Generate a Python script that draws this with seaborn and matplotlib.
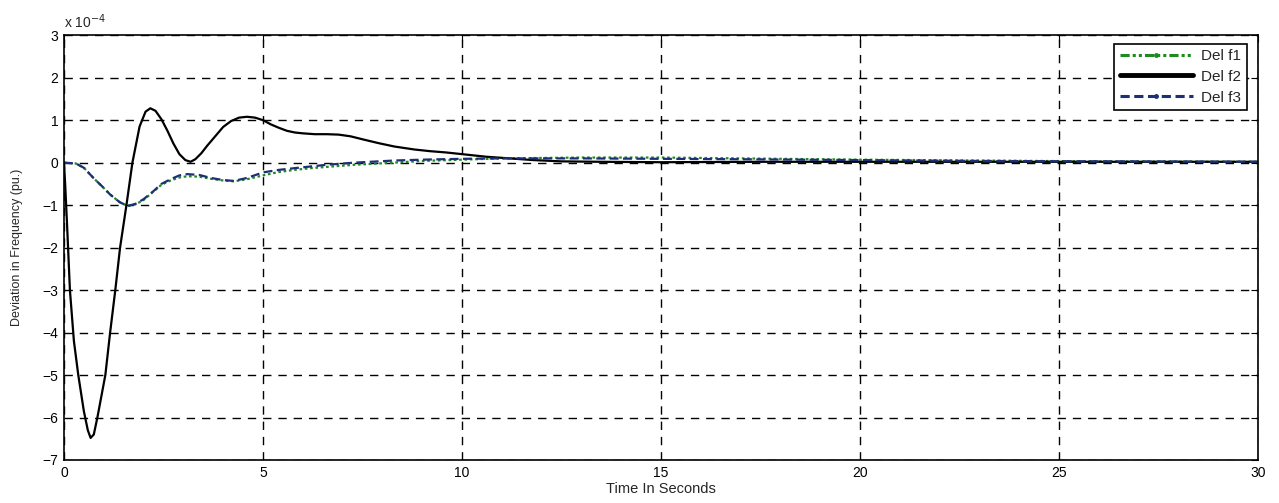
import matplotlib
matplotlib.use("Agg")
import matplotlib.pyplot as plt
import seaborn as sns
import pandas as pd
from matplotlib.lines import Line2D

# values, in units of 1e-4 p.u.
t_f2 = [0, 0.03, 0.08, 0.15, 0.25, 0.36, 0.5, 0.6, 0.67, 0.75, 0.84, 0.94, 1.04,
        1.16, 1.29, 1.41, 1.57, 1.72, 1.9, 2.05, 2.17, 2.3, 2.45, 2.6, 2.75, 2.9,
        3.05, 3.18, 3.3, 3.45, 3.6, 3.8, 4.0, 4.2, 4.4, 4.6, 4.8, 5.0, 5.2, 5.4,
        5.6, 5.8, 6.0, 6.3, 6.6, 6.9, 7.2, 7.5, 7.9, 8.3, 8.8, 9.2, 9.6, 10.0,
        10.6, 11.2, 11.8, 12.5, 13.5, 15, 17.5, 20, 25, 30]
f2 = [0, -0.5, -1.5, -3.0, -4.2, -5.0, -5.85, -6.3, -6.48, -6.4, -6.0, -5.5, -5.0,
      -4.0, -3.0, -2.0, -1.0, 0.0, 0.85, 1.2, 1.28, 1.22, 1.02, 0.75, 0.45, 0.2,
      0.06, 0.02, 0.08, 0.22, 0.4, 0.62, 0.84, 0.98, 1.06, 1.08, 1.06, 1.0, 0.9, 0.82,
      0.75, 0.71, 0.69, 0.67, 0.67, 0.66, 0.62, 0.55, 0.46, 0.38, 0.31, 0.27, 0.24, 0.2,
      0.14, 0.1, 0.06, 0.03, 0.02, 0.01, 0.02, 0.02, 0.02, 0.02]

t_f13 = [0, 0.3, 0.5, 0.74, 0.95, 1.16, 1.4, 1.6, 1.8, 2.0, 2.25, 2.45, 2.68, 2.9,
         3.1, 3.4, 3.69, 4.0, 4.27, 4.6, 5.0, 5.4, 5.79, 6.2, 6.6, 7.3, 8.3, 9.0,
         10.0, 11, 12, 13, 15, 17, 20, 23, 26, 30]
f1 = [0, -0.02, -0.12, -0.36, -0.55, -0.75, -0.93, -1.02, -0.98, -0.88, -0.68, -0.52,
      -0.42, -0.35, -0.32, -0.33, -0.38, -0.42, -0.44, -0.39, -0.3, -0.22, -0.17, -0.13,
      -0.1, -0.05, 0.0, 0.04, 0.07, 0.1, 0.11, 0.12, 0.12, 0.1, 0.07, 0.05, 0.03, 0.02]
f3 = [0, -0.02, -0.12, -0.36, -0.55, -0.75, -0.93, -1.02, -0.97, -0.86, -0.67, -0.5,
      -0.39, -0.3, -0.27, -0.29, -0.36, -0.41, -0.43, -0.36, -0.23, -0.17, -0.13, -0.09,
      -0.05, 0.0, 0.05, 0.07, 0.09, 0.1, 0.1, 0.1, 0.09, 0.08, 0.06, 0.04, 0.03, 0.02]

x_ticks = [0, 5, 10, 15, 20, 25, 30]
y_ticks = [-7, -6, -5, -4, -3, -2, -1, 0, 1, 2, 3]

df2 = pd.DataFrame({"t": t_f2, "v": f2})
df13 = pd.DataFrame({"t": t_f13, "f1": f1, "f3": f3})

sns.set_style("white")
plt.rcParams["font.family"] = ["Liberation Sans", "DejaVu Sans"]

fig = plt.figure(figsize=(12.79, 5.03), dpi=100)
ax = fig.add_axes([0.050, 0.0855, 0.9336, 0.8445])

green = "#1f8a1f"
navy = "#1c2f78"

sns.lineplot(data=df13, x="t", y="f1", ax=ax, color=green, lw=1.6,
             linestyle=(0, (1.2, 1.2)), sort=False, estimator=None)
sns.lineplot(data=df2, x="t", y="v", ax=ax, color="black", lw=1.6,
             sort=False, estimator=None)
sns.lineplot(data=df13, x="t", y="f3", ax=ax, color=navy, lw=1.6,
             linestyle=(0, (4, 2)), sort=False, estimator=None)

ax.set_xlim(0, 30)
ax.set_ylim(-7, 3)
ax.set_xticks(x_ticks)
ax.set_yticks(y_ticks)
ax.tick_params(direction="in", length=5, labelsize=10, colors="black", pad=4)
ax.tick_params(top=True, right=True)
ax.grid(True, color="black", linestyle=(0, (6, 5)), linewidth=1.0)
for s in ax.spines.values():
    s.set_color("black")
    s.set_linewidth(1.2)

ax.set_xlabel("Time In Seconds", fontsize=10.5, labelpad=2)
ax.set_ylabel("Deviation in Frequency (pu.)", fontsize=9, labelpad=14)
ax.text(0.0, 1.01, "x 10$^{-4}$", transform=ax.transAxes, fontsize=10,
        ha="left", va="bottom")

handles = [
    Line2D([], [], color=green, lw=2.2, linestyle=(0, (3, 1, 1, 1, 1, 1)),
           marker=".", markersize=5),
    Line2D([], [], color="black", lw=3.5),
    Line2D([], [], color=navy, lw=2.2, linestyle=(0, (3, 1.5)),
           marker=".", markersize=5),
]
leg = ax.legend(handles, ["Del f1", "Del f2", "Del f3"], loc="upper right",
                fontsize=11, frameon=True, fancybox=False, handlelength=4.8,
                borderpad=0.35, borderaxespad=0.55, labelspacing=0.45,
                handletextpad=0.55, bbox_to_anchor=(0.9975, 1.0))
leg.get_frame().set_edgecolor("black")
leg.get_frame().set_linewidth(1.2)
leg.get_frame().set_alpha(1)

fig.savefig("out.png", dpi=100)
